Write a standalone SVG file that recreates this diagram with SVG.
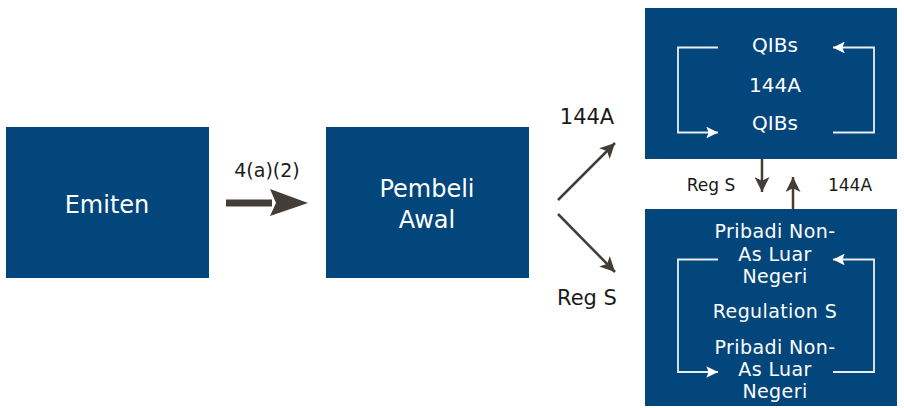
<svg xmlns="http://www.w3.org/2000/svg" width="904" height="408" viewBox="0 0 904 408">
<defs>
<style>
.box{fill:#03467c}
.wt{fill:#ffffff;font-family:"DejaVu Sans","Noto Sans",sans-serif;text-anchor:middle}
.in{font-size:19px;letter-spacing:0.4px}
.dk{fill:#1a1a1a;font-family:"DejaVu Sans","Noto Sans",sans-serif;text-anchor:middle}
.con{stroke:#433d37;stroke-width:2.5;fill:none}
.wl{stroke:#e8eef5;stroke-width:1.8;fill:none}
</style>
<marker id="ah" viewBox="0 0 10 10" refX="10" refY="5" markerWidth="6.4" markerHeight="6" markerUnits="strokeWidth" orient="auto">
<path d="M0,0 L10,5 L0,10 L2.5,5 z" fill="#433d37"/>
</marker>
<marker id="wh" viewBox="0 0 10 10" refX="10" refY="5" markerWidth="8.5" markerHeight="6.5" markerUnits="strokeWidth" orient="auto">
<path d="M0,0 L10,5 L0,10 L2,5 z" fill="#ffffff"/>
</marker>
</defs>
<rect width="904" height="408" fill="#ffffff"/>
<g id="emiten">
<rect class="box" x="6" y="127" width="203" height="151"/>
<text class="wt" x="107" y="213" font-size="24">Emiten</text>
</g>
<g id="pembeli-awal">
<rect class="box" x="326" y="127" width="203" height="151"/>
<text class="wt" x="427" y="197" font-size="24">Pembeli</text>
<text class="wt" x="427" y="228" font-size="24">Awal</text>
</g>
<g id="qibs">
<rect class="box" x="645" y="8" width="252" height="151"/>
<text class="wt" x="775" y="52" font-size="20">QIBs</text>
<text class="wt" x="775" y="92" font-size="20">144A</text>
<text class="wt" x="775" y="130" font-size="20">QIBs</text>
<path class="wl" d="M718,47.5 H678 V132.5 H718" marker-end="url(#wh)"/>
<path class="wl" d="M833,132.5 H874 V47.5 H833" marker-end="url(#wh)"/>
</g>
<g id="reg-s">
<rect class="box" x="645" y="209" width="252" height="197"/>
<text class="wt in" x="775" y="238">Pribadi Non-</text>
<text class="wt in" x="775" y="260.5">As Luar</text>
<text class="wt in" x="775" y="283">Negeri</text>
<text class="wt in" x="775" y="318">Regulation S</text>
<text class="wt in" x="775" y="353.5">Pribadi Non-</text>
<text class="wt in" x="775" y="375.8">As Luar</text>
<text class="wt in" x="775" y="398">Negeri</text>
<path class="wl" d="M718,259.5 H678 V372 H718" marker-end="url(#wh)"/>
<path class="wl" d="M833,372 H874 V259.5 H833" marker-end="url(#wh)"/>
</g>
<g id="connectors">
<rect x="226" y="199.5" width="46" height="7" fill="#433d37"/>
<path d="M270,189 L308,203 L270,216 L276,203 z" fill="#433d37"/>
<text class="dk" x="267" y="177" font-size="19">4(a)(2)</text>
<line class="con" x1="558" y1="200" x2="615" y2="143" marker-end="url(#ah)"/>
<line class="con" x1="558" y1="214" x2="615" y2="272" marker-end="url(#ah)"/>
<text class="dk" x="587" y="124" font-size="21">144A</text>
<text class="dk" x="587" y="305" font-size="21">Reg S</text>
<line class="con" x1="762" y1="159" x2="762" y2="192" marker-end="url(#ah)"/>
<line class="con" x1="793" y1="209" x2="793" y2="177" marker-end="url(#ah)"/>
<text class="dk" x="711" y="191" font-size="17">Reg S</text>
<text class="dk" x="850" y="191" font-size="17">144A</text>
</g>
</svg>
